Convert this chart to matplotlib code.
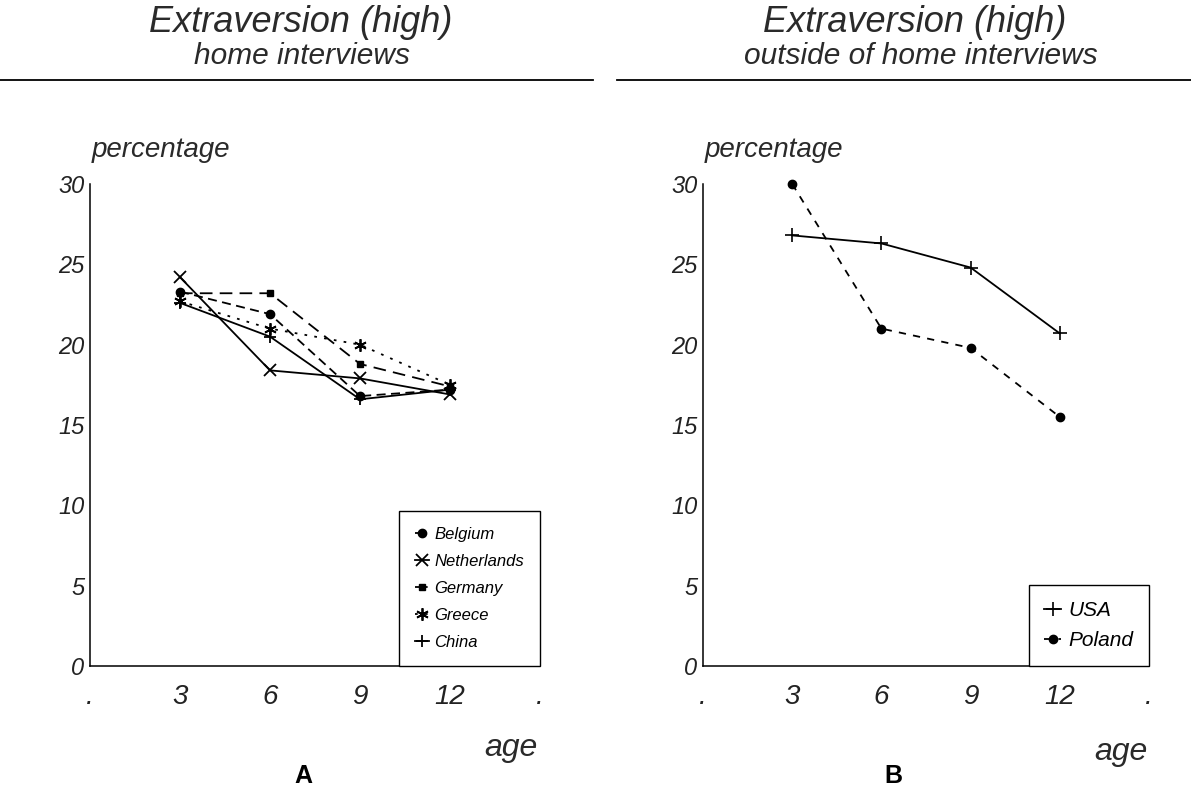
import matplotlib
matplotlib.use('Agg')
import matplotlib.pyplot as plt
from matplotlib.lines import Line2D

# ---- data ----
ages = [3, 6, 9, 12]
belgium = [23.3, 21.9, 16.8, 17.2]
netherlands = [24.2, 18.4, 17.9, 16.9]
germany = [23.2, 23.2, 18.8, 17.4]
greece = [22.7, 21.0, 20.0, 17.5]
china = [22.6, 20.5, 16.6, 17.2]
usa = [26.8, 26.3, 24.8, 20.7]
poland = [30.0, 21.0, 19.8, 15.5]

x_ticks = [0, 3, 6, 9, 12, 15]
x_ticklabels = ['.', '3', '6', '9', '12', '.']
y_ticks = [0, 5, 10, 15, 20, 25, 30]

W, H = 1191, 789
plt.rcParams['font.family'] = ['Liberation Sans', 'DejaVu Sans']
fig = plt.figure(figsize=(W / 100, H / 100), dpi=100)
fig.patch.set_facecolor('white')


def fx(px):
    return px / W


def fy(py):
    return 1 - py / H


Y0, Y30 = 666, 184
axA = fig.add_axes([fx(90), fy(Y0), fx(540) - fx(90), fy(Y30) - fy(Y0)])
axB = fig.add_axes([fx(703), fy(Y0), fx(1149) - fx(703), fy(Y30) - fy(Y0)])

for ax in (axA, axB):
    ax.set_xlim(0, 15)
    ax.set_ylim(0, 30)
    for s in ('top', 'right'):
        ax.spines[s].set_visible(False)
    for s in ('left', 'bottom'):
        ax.spines[s].set_linewidth(1.1)
        ax.spines[s].set_color('black')
    ax.set_xticks(x_ticks)
    ax.set_xticklabels(x_ticklabels, fontsize=20, style='italic', color='#222222')
    ax.set_yticks(y_ticks)
    ax.set_yticklabels([str(v) for v in y_ticks], fontsize=17, style='italic',
                       color='#222222')
    ax.tick_params(axis='x', length=0, pad=13)
    ax.tick_params(axis='y', length=0, pad=4)

lw = 1.3
k = 'black'
series_A = [
    ('Belgium', belgium, dict(ls=(0, (5, 3)), marker='o', ms=6)),
    ('Netherlands', netherlands, dict(ls='-', marker='x', ms=8, mew=1.3)),
    ('Germany', germany, dict(ls=(0, (7, 4)), marker='s', ms=4.5)),
    ('Greece', greece, dict(ls=(0, (1.5, 4)), marker=(6, 2, 0), ms=9, mew=1.3)),
    ('China', china, dict(ls='-', marker='+', ms=9, mew=1.3)),
]
handles = []
for name, vals, st in series_A:
    h, = axA.plot(ages, vals, color=k, lw=lw, label=name, clip_on=False, **st)
    handles.append(h)

legA = axA.legend(handles=handles, loc='lower right', bbox_to_anchor=(1.0, 0.0),
                  borderaxespad=0, prop={'style': 'italic', 'size': 12},
                  frameon=True, fancybox=False, framealpha=1, edgecolor='black',
                  handlelength=0.8, handletextpad=0.35, labelspacing=0.72,
                  borderpad=0.95)
legA.get_frame().set_linewidth(1.0)

hB = []
h, = axB.plot(ages, usa, color=k, lw=lw, ls='-', marker='+', ms=10, mew=1.2,
              label='USA', clip_on=False)
hB.append(h)
h, = axB.plot(ages, poland, color=k, lw=lw, ls=(0, (4, 4)), marker='o', ms=6,
              label='Poland', clip_on=False)
hB.append(h)
legB = axB.legend(handles=hB, loc='lower right', bbox_to_anchor=(1.0, 0.0),
                  borderaxespad=0, prop={'style': 'italic', 'size': 15},
                  frameon=True, fancybox=False, framealpha=1, edgecolor='black',
                  handlelength=0.8, handletextpad=0.35, labelspacing=0.55,
                  borderpad=0.75)
legB.get_frame().set_linewidth(1.0)

# titles
tc = '#2a2a2a'
fig.text(fx(301), fy(23), 'Extraversion (high)', ha='center', va='center',
         fontsize=26, style='italic', color=tc)
fig.text(fx(302), fy(56), 'home interviews', ha='center', va='center',
         fontsize=21.5, style='italic', color=tc)
fig.text(fx(915), fy(23), 'Extraversion (high)', ha='center', va='center',
         fontsize=26, style='italic', color=tc)
fig.text(fx(921), fy(56), 'outside of home interviews', ha='center', va='center',
         fontsize=21.5, style='italic', color=tc)
fig.add_artist(Line2D([0, fx(593)], [fy(80), fy(80)], color='black', lw=1.3,
                      transform=fig.transFigure))
fig.add_artist(Line2D([fx(617), 1], [fy(80), fy(80)], color='black', lw=1.3,
                      transform=fig.transFigure))

# axis labels
fig.text(fx(92), fy(150), 'percentage', ha='left', va='center', fontsize=20,
         style='italic', color=tc)
fig.text(fx(705), fy(150), 'percentage', ha='left', va='center', fontsize=20,
         style='italic', color=tc)
fig.text(fx(538), fy(748), 'age', ha='right', va='center', fontsize=23,
         style='italic', color=tc)
fig.text(fx(1148), fy(752), 'age', ha='right', va='center', fontsize=23,
         style='italic', color=tc)
fig.text(fx(303), fy(776), 'A', ha='center', va='center', fontsize=18,
         fontweight='bold')
fig.text(fx(893), fy(776), 'B', ha='center', va='center', fontsize=18,
         fontweight='bold')

fig.savefig('out.png', dpi=100, facecolor='white')
